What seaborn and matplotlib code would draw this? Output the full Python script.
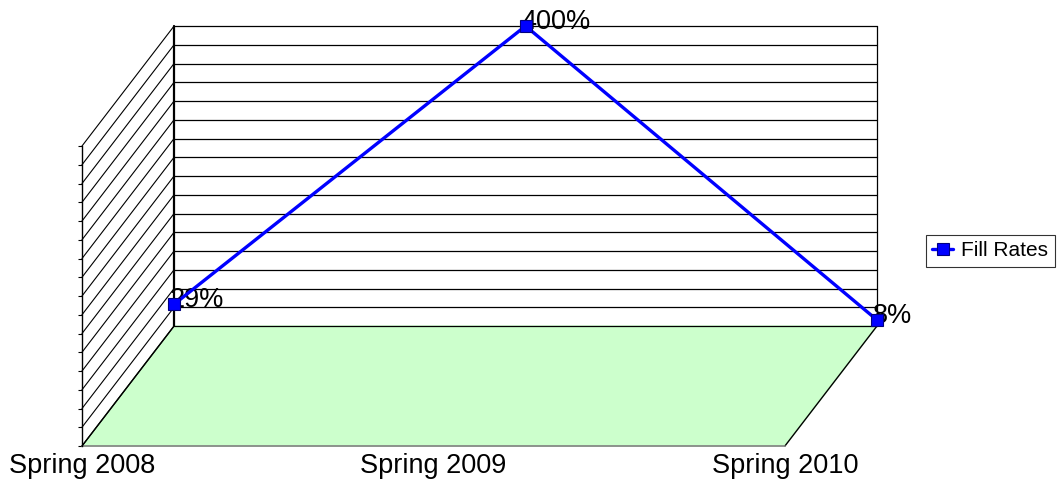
import matplotlib
matplotlib.use('Agg')
import matplotlib.pyplot as plt
import seaborn as sns
import numpy as np

# Données
categories = ['Spring 2008', 'Spring 2009', 'Spring 2010']
fill_rates = [29, 400, 8]          # en %
labels = ['29%', '400%', '8%']
series_name = 'Fill Rates'

# Axe des valeurs (0 à 400 %, pas de 25 %)
y_max = 400
y_step = 25

# Décalage "3D" du mur du fond (en unités de données)
dx = 0.262
dy = 160

sns.set_theme(style='white')
plt.rcParams['font.family'] = ['Liberation Sans', 'DejaVu Sans']
plt.rcParams['text.color'] = 'black'
plt.rcParams['xtick.color'] = 'black'
plt.rcParams['ytick.color'] = 'black'

fig = plt.figure(figsize=(10.59, 4.83), dpi=100)
ax = fig.add_axes([82 / 1059, 37 / 483, 795 / 1059, 420 / 483])

n = len(categories)
x_front = np.arange(n)
x_right = n - 1

# Sol
floor_x = [0, x_right, x_right + dx, dx]
floor_y = [0, 0, dy, dy]
ax.fill(floor_x, floor_y, color='#CCFFCC', zorder=1, clip_on=False)
ax.plot([0, dx], [0, dy], color='black', lw=1, zorder=2, clip_on=False)
ax.plot([x_right, x_right + dx], [0, dy], color='black', lw=1, zorder=2, clip_on=False)
ax.plot([0, x_right], [0, 0], color='#808080', lw=1.2, zorder=2, clip_on=False)

# Mur du fond et mur latéral
levels = np.arange(0, y_max + 1, y_step)
for v in levels:
    ax.plot([dx, x_right + dx], [dy + v, dy + v], color='black', lw=0.9, zorder=2, clip_on=False)
    ax.plot([0, dx], [v, dy + v], color='black', lw=0.8, zorder=2, clip_on=False)
ax.plot([dx, dx], [dy, dy + y_max], color='black', lw=1.6, zorder=2, clip_on=False)
ax.plot([x_right + dx, x_right + dx], [dy, dy + y_max], color='black', lw=0.9, zorder=2, clip_on=False)

# Série
sns.lineplot(x=x_front + dx, y=np.array(fill_rates) + dy, ax=ax,
             color='#0000FF', lw=2.4, marker='s', markersize=9,
             markerfacecolor='#0000FF', markeredgecolor='#000080',
             markeredgewidth=0.8, label=series_name, zorder=5, clip_on=False)

for xi, v, t in zip(x_front, fill_rates, labels):
    ax.annotate(t, (xi + dx, v + dy), xytext=(-3, 3), textcoords='offset points',
                ha='left', va='center', fontsize=19.5, color='black', zorder=4)

# Axes
ax.set_xlim(0, x_right + dx)
ax.set_ylim(0, y_max + dy)
ax.set_xticks(x_front)
ax.set_xticklabels(categories, fontsize=19.5, color='black')
ax.tick_params(axis='x', length=0, pad=5)
ax.set_yticks(levels)
ax.set_yticklabels([])
ax.tick_params(axis='y', left=True, length=3, width=0.8, color='black')
for s in ['top', 'right', 'bottom']:
    ax.spines[s].set_visible(False)
ax.spines['left'].set_bounds(0, y_max)
ax.spines['left'].set_color('black')
ax.spines['left'].set_linewidth(1)
ax.set_xlabel('')
ax.set_ylabel('')
ax.patch.set_alpha(0)

leg = ax.legend(loc='center left', bbox_to_anchor=(926 / 1059, 1 - 251 / 483),
                bbox_transform=fig.transFigure, frameon=True, fancybox=False,
                fontsize=15, handlelength=1.0, handletextpad=0.4,
                borderpad=0.3, borderaxespad=0)
leg.get_frame().set_edgecolor('black')
leg.get_frame().set_linewidth(0.8)
for txt in leg.get_texts():
    txt.set_color('black')

fig.savefig('out.png', dpi=100)
